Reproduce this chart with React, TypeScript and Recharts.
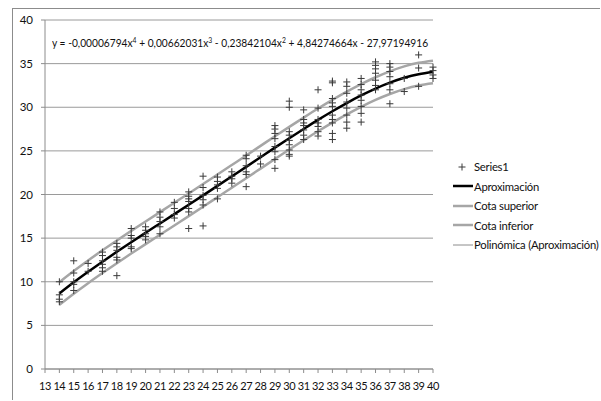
import { ComposedChart, Line, Scatter, XAxis, YAxis, CartesianGrid } from 'recharts'

// x positions of the fitted curves
const xs = [14, 15, 16, 17, 18, 19, 20, 21, 22, 23, 24, 25, 26, 27, 28, 29, 30, 31, 32, 33, 34, 35, 36, 37, 38, 39, 40]
const aproximacion = [8.65, 9.93, 11.14, 12.3, 13.43, 14.53, 15.61, 16.68, 17.75, 18.82, 19.9, 20.99, 22.08, 23.17, 24.27, 25.37, 26.45, 27.51, 28.55, 29.54, 30.48, 31.35, 32.14, 32.82, 33.38, 33.79, 34.04]
const cotaSuperior = [9.95, 11.23, 12.44, 13.6, 14.73, 15.83, 16.91, 17.98, 19.05, 20.12, 21.2, 22.29, 23.38, 24.47, 25.57, 26.67, 27.75, 28.81, 29.85, 30.84, 31.78, 32.65, 33.44, 34.12, 34.68, 35.09, 35.34]
const cotaInferior = [7.35, 8.63, 9.84, 11.0, 12.13, 13.23, 14.31, 15.38, 16.45, 17.52, 18.6, 19.69, 20.78, 21.87, 22.97, 24.07, 25.15, 26.21, 27.25, 28.24, 29.18, 30.05, 30.84, 31.52, 32.08, 32.49, 32.74]

// Series1 observations, grouped by x
const series1: [number, number[]][] = [
  [14, [10.0, 8.5, 8.0, 7.7]],
  [15, [12.4, 11.0, 10.0, 9.7, 9.0]],
  [16, [12.1, 11.2]],
  [17, [13.4, 13.0, 12.4, 12.0, 11.6, 11.2]],
  [18, [14.4, 14.0, 13.6, 12.8, 12.5, 10.7]],
  [19, [16.1, 15.3, 15.0, 14.0, 13.8]],
  [20, [16.3, 15.9, 15.5, 15.2, 14.8]],
  [21, [18.0, 17.4, 16.9, 16.3, 15.5]],
  [22, [19.1, 18.4, 17.7, 17.3]],
  [23, [20.3, 19.8, 19.5, 19.2, 18.4, 18.0, 16.1]],
  [24, [22.1, 20.8, 19.9, 19.4, 18.8, 16.4]],
  [25, [22.0, 21.5, 21.1, 20.7, 19.5]],
  [26, [22.6, 22.1, 21.8, 21.3]],
  [27, [24.5, 24.1, 23.3, 22.6, 22.3, 20.9]],
  [28, [24.4, 23.5]],
  [29, [27.9, 27.5, 27.0, 26.4, 25.5, 24.9, 24.0, 23.0]],
  [30, [30.7, 30.0, 27.2, 26.8, 26.2, 25.7, 25.1, 24.6, 24.4]],
  [31, [29.7, 28.6, 28.2, 27.9, 27.4, 26.8, 26.3]],
  [32, [32.0, 29.9, 28.6, 28.2, 27.8, 27.2, 26.7]],
  [33, [33.0, 32.8, 31.0, 30.5, 30.1, 29.1, 28.6, 28.2, 27.0, 26.3]],
  [34, [32.9, 32.4, 31.6, 30.6, 29.9, 29.1, 28.3, 27.6]],
  [35, [33.3, 32.6, 32.0, 31.4, 30.8, 30.1, 29.3, 28.3]],
  [36, [35.2, 34.8, 34.4, 33.9, 33.1, 32.5, 32.0]],
  [37, [35.0, 34.6, 34.1, 33.5, 32.7, 32.0, 30.4]],
  [38, [33.3, 31.8]],
  [39, [36.0, 34.5, 32.4]],
  [40, [34.6, 34.2, 33.7, 33.3]],
]

const xTicks = [13, 14, 15, 16, 17, 18, 19, 20, 21, 22, 23, 24, 25, 26, 27, 28, 29, 30, 31, 32, 33, 34, 35, 36, 37, 38, 39, 40]
const yTicks = [0, 5, 10, 15, 20, 25, 30, 35, 40]

const curves = xs.map((x, i) => ({
  x,
  aprox: aproximacion[i],
  sup: cotaSuperior[i],
  inf: cotaInferior[i],
  poli: aproximacion[i],
}))
const points = series1.flatMap(([x, ys]) => ys.map((y) => ({ x, y })))

const FONT = 'Lato, "Noto Sans", sans-serif'

const Cross = (props: any) => {
  const { cx, cy } = props
  if (cx == null || cy == null) return null
  return <path d={`M${cx - 3.5},${cy}h7M${cx},${cy - 3.5}v7`} stroke="#3a3a3a" strokeWidth={1} fill="none" />
}

const legendItems = [
  { name: 'Series1', kind: 'cross' },
  { name: 'Aproximación', kind: 'line', color: '#000', w: 2.5 },
  { name: 'Cota superior', kind: 'line', color: '#a6a6a6', w: 2.5 },
  { name: 'Cota inferior', kind: 'line', color: '#a6a6a6', w: 2.5 },
  { name: 'Polinómica (Aproximación)', kind: 'line', color: '#8c8c8c', w: 1 },
]

function LegendBox() {
  return (
    <div style={{ position: 'absolute', left: 453, top: 157, fontFamily: FONT, fontSize: 11.3, letterSpacing: -0.25, color: '#111' }}>
      {legendItems.map((it) => (
        <div key={it.name} style={{ display: 'flex', alignItems: 'center', height: 19.5 }}>
          <svg width={20} height={12} style={{ flex: 'none' }}>
            {it.kind === 'cross' ? (
              <path d="M5.5,6h7M9,2.5v7" stroke="#3a3a3a" strokeWidth={1} />
            ) : (
              <line x1={0} y1={6} x2={20} y2={6} stroke={it.color} strokeWidth={it.w} />
            )}
          </svg>
          <span style={{ whiteSpace: 'nowrap', marginLeft: 1 }}>{it.name}</span>
        </div>
      ))}
    </div>
  )
}

const sup = { fontSize: 8, verticalAlign: 'top', lineHeight: '10px' } as const

export default function App() {
  return (
    <div style={{ position: 'absolute', left: 0, top: 0, width: 600, height: 400, overflow: 'hidden', background: '#fff' }}>
      <div
        style={{
          position: 'absolute',
          left: 12,
          top: 8,
          width: 588,
          height: 392,
          borderTop: '1px solid #8c8c8c',
          borderLeft: '1px solid #8c8c8c',
        }}
      />
      <div style={{ position: 'absolute', left: 0, top: 0 }}>
        <ComposedChart width={600} height={400} data={curves} margin={{ top: 20, right: 167, bottom: 11, left: 15 }}>
          <CartesianGrid horizontal vertical={false} stroke="#9a9a9a" />
          <XAxis
            type="number"
            dataKey="x"
            domain={[13, 40]}
            ticks={xTicks}
            interval={0}
            stroke="#8c8c8c"
            tickSize={4}
            tickMargin={9}
            height={20}
            tick={{ fill: '#111', fontSize: 11, fontFamily: FONT, letterSpacing: -0.4 }}
          />
          <YAxis
            type="number"
            domain={[0, 40]}
            ticks={yTicks}
            interval={0}
            width={30}
            stroke="#8c8c8c"
            tickSize={4}
            tickMargin={8}
            tick={{ fill: '#111', fontSize: 11.5, fontFamily: FONT }}
          />
          <Scatter data={points} dataKey="y" shape={Cross} isAnimationActive={false} legendType="none" />
          <Line type="monotone" dataKey="sup" stroke="#a6a6a6" strokeWidth={2.5} dot={false} isAnimationActive={false} />
          <Line type="monotone" dataKey="inf" stroke="#a6a6a6" strokeWidth={2.5} dot={false} isAnimationActive={false} />
          <Line type="monotone" dataKey="poli" stroke="#8c8c8c" strokeWidth={0.8} dot={false} isAnimationActive={false} />
          <Line type="monotone" dataKey="aprox" stroke="#000" strokeWidth={2.5} dot={false} isAnimationActive={false} />
        </ComposedChart>
      </div>
      <LegendBox />
      <div
        style={{
          position: 'absolute',
          left: 52,
          top: 35,
          fontFamily: FONT,
          fontSize: 12,
          lineHeight: '16px',
          color: '#111',
          whiteSpace: 'nowrap',
          transform: 'scaleX(0.85)',
          transformOrigin: '0 0',
        }}
      >
        y = -0,00006794x<span style={sup}>4</span> + 0,00662031x<span style={sup}>3</span> - 0,23842104x<span style={sup}>2</span> + 4,84274664x - 27,97194916
      </div>
    </div>
  )
}
